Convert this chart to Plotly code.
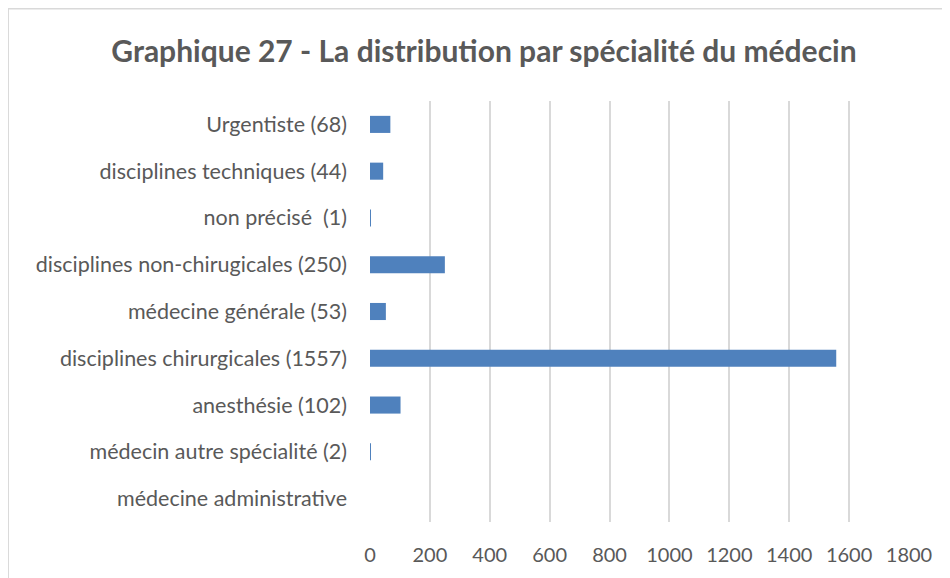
import plotly.graph_objects as go

categories = [
    "médecine administrative",
    "médecin autre spécialité (2)",
    "anesthésie (102)",
    "disciplines chirurgicales (1557)",
    "médecine générale (53)",
    "disciplines non-chirugicales (250)",
    "non précisé  (1)",
    "disciplines techniques (44)",
    "Urgentiste (68)",
]
values = [0, 2, 102, 1557, 53, 250, 1, 44, 68]
x_ticks = [0, 200, 400, 600, 800, 1000, 1200, 1400, 1600, 1800]

title_text = "Graphique 27 - La distribution par spécialité du médecin"

FONT = "Lato, 'Open Sans', sans-serif"
GREY = "#595959"

fig = go.Figure(
    go.Bar(
        y=categories,
        x=values,
        orientation="h",
        marker=dict(color="#4F81BD", line=dict(width=0)),
        hoverinfo="x+y",
    )
)

# page has an 8px body offset; positions below are in figure pixels
OFF = 8
W, H = 950, 578
L, T = 370 - OFF, 101 - OFF
PR, PB = 909 - OFF, 522 - OFF
R, B = W - PR, H - PB
pw, ph = PR - L, PB - T

def px_x(p):
    return (p - OFF - L) / pw

def px_y(p):
    return (PB - (p - OFF)) / ph

fig.update_layout(
    width=W,
    height=H,
    margin=dict(l=L, r=R, t=T, b=B, pad=0),
    paper_bgcolor="white",
    plot_bgcolor="white",
    bargap=0.635,
    showlegend=False,
    font=dict(family=FONT, color=GREY, size=20),
    title=dict(
        text="<b>" + title_text + "</b>",
        x=px_x(484), xref="paper", xanchor="center",
        y=1 - (51 - OFF) / H, yref="container", yanchor="middle",
        font=dict(family=FONT, size=30, color=GREY),
    ),
    xaxis=dict(
        range=[0, 1800],
        tickvals=x_ticks,
        showgrid=True,
        gridcolor="#D9D9D9",
        gridwidth=1.5,
        zeroline=False,
        showline=False,
        ticks="",
        ticklabelstandoff=19,
        tickfont=dict(size=20, color=GREY),
        fixedrange=True,
    ),
    yaxis=dict(
        categoryorder="array",
        categoryarray=categories,
        showgrid=False,
        zeroline=False,
        showline=False,
        ticks="",
        ticklabelstandoff=22,
        tickfont=dict(size=21.5, color=GREY),
        fixedrange=True,
    ),
    shapes=[
        dict(
            type="rect", xref="paper", yref="paper",
            x0=px_x(8.2), x1=px_x(1100), y0=px_y(700), y1=px_y(8.8),
            line=dict(color="#D9D9D9", width=1.5),
            fillcolor="rgba(0,0,0,0)", layer="below",
        )
    ],
)

fig.write_html("out.html")
